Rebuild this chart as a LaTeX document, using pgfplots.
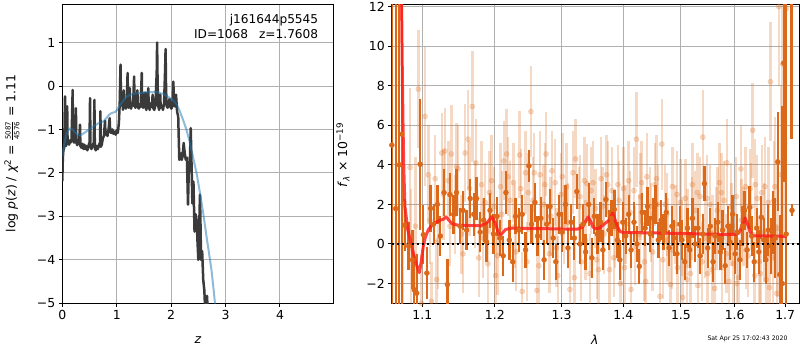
\documentclass[border=0pt]{standalone}
\usepackage{fontspec}
\setmainfont{DejaVu Sans}
\usepackage{pgfplots}
\usepackage{pgfplotstable}
\pgfplotsset{compat=1.18}
\definecolor{darkor}{RGB}{220,105,25}
\definecolor{tabblue}{RGB}{31,119,180}
\definecolor{gridc}{RGB}{176,176,176}
\definecolor{dgray}{RGB}{58,58,58}
\definecolor{modred}{RGB}{255,25,25}

\pgfplotstableread{
z y
0.000 -2.19
0.010 -1.65
0.020 -1.48
0.035 -1.42
0.045 -0.60
0.050 -0.24
0.056 -1.30
0.070 -1.38
0.082 -1.25
0.090 -0.47
0.097 -1.32
0.110 -1.28
0.125 -1.35
0.140 -1.25
0.155 -1.30
0.170 -1.22
0.185 -0.40
0.190 -0.09
0.197 -1.22
0.215 -1.30
0.235 -1.28
0.250 -0.51
0.258 -1.30
0.275 -1.36
0.295 -1.30
0.310 -1.25
0.325 -0.89
0.333 -1.38
0.350 -1.42
0.370 -1.33
0.390 -1.45
0.405 -1.35
0.420 -1.45
0.440 -1.38
0.460 -1.48
0.480 -1.38
0.500 -1.30
0.510 -0.28
0.518 -1.40
0.535 -1.45
0.555 -1.38
0.580 -1.30
0.590 -0.32
0.598 -1.42
0.615 -1.48
0.635 -1.38
0.655 -1.45
0.675 -1.35
0.695 -1.30
0.700 -0.58
0.708 -1.40
0.725 -1.35
0.745 -1.20
0.765 -1.15
0.785 -0.80
0.793 -1.12
0.810 -1.05
0.830 -1.15
0.850 -1.00
0.870 -0.74
0.880 -1.05
0.900 -1.08
0.920 -1.00
0.940 -1.10
0.960 -1.05
0.980 -1.12
1.000 -1.02
1.020 -1.08
1.040 -0.85
1.055 -0.40
1.065 0.20
1.070 0.49
1.078 -0.30
1.090 -0.45
1.105 -0.35
1.115 -0.55
1.130 -0.10
1.138 -0.50
1.155 -0.45
1.170 -0.52
1.185 -0.35
1.200 0.30
1.208 -0.40
1.220 -0.50
1.240 -0.05
1.248 -0.48
1.265 -0.52
1.280 -0.40
1.300 -0.45
1.320 0.22
1.328 -0.45
1.345 -0.50
1.365 -0.38
1.380 -0.10
1.388 -0.48
1.405 -0.52
1.420 -0.42
1.440 -0.48
1.460 0.30
1.468 -0.45
1.485 -0.50
1.500 -0.42
1.520 -0.15
1.528 -0.48
1.545 -0.55
1.560 -0.40
1.580 -0.05
1.588 -0.45
1.605 -0.55
1.625 -0.40
1.645 -0.48
1.660 -0.20
1.668 -0.50
1.690 -0.55
1.710 -0.45
1.735 0.30
1.742 1.00
1.750 0.20
1.760 -0.45
1.780 -0.55
1.800 -0.20
1.808 -0.50
1.830 -0.45
1.850 -0.55
1.870 -0.40
1.890 0.40
1.898 0.85
1.905 0.10
1.915 -0.45
1.935 -0.50
1.955 -0.40
1.970 -0.30
1.985 -0.48
2.005 -0.52
2.025 -0.45
2.040 0.10
2.055 -0.45
2.070 -0.47
2.090 -0.20
2.110 -0.60
2.130 -0.70
2.150 -1.70
2.165 -1.60
2.180 -1.55
2.195 -1.70
2.210 -1.62
2.230 -1.31
2.250 -1.55
2.270 -1.70
2.290 -1.65
2.310 -2.73
2.325 -1.90
2.345 -1.70
2.360 -0.97
2.375 -1.80
2.390 -2.70
2.410 -2.20
2.430 -3.35
2.450 -2.95
2.470 -3.10
2.485 -3.60
2.500 -4.00
2.515 -3.30
2.530 -2.50
2.540 -3.20
2.550 -4.00
2.570 -3.80
2.590 -4.46
2.610 -4.70
2.625 -5.15
2.645 -4.90
2.660 -4.83
2.675 -5.30
}\pzdata

\pgfplotstableread{
z y
0.00 -1.62
0.04 -1.30
0.08 -1.08
0.14 -0.97
0.19 -1.00
0.23 -1.06
0.28 -1.12
0.32 -1.14
0.38 -1.10
0.45 -1.04
0.57 -0.93
0.69 -0.84
0.75 -0.82
0.81 -0.74
0.86 -0.66
0.91 -0.62
0.97 -0.60
1.00 -0.56
1.05 -0.46
1.09 -0.39
1.18 -0.24
1.30 -0.18
1.45 -0.16
1.61 -0.14
1.73 -0.14
1.85 -0.18
1.91 -0.22
2.04 -0.33
2.10 -0.42
2.16 -0.58
2.22 -0.78
2.28 -1.00
2.34 -1.28
2.40 -1.62
2.47 -2.02
2.53 -2.46
2.59 -2.93
2.65 -3.46
2.70 -3.88
2.74 -4.22
2.78 -4.68
2.81 -5.05
2.83 -5.30
}\priordata

\pgfplotstableread{
x y e
1.0605 5.0 20
1.0654 1.79 20
1.0700 4.0 20
1.0734 5.55 20
1.0770 0.95 1.3
1.0820 -0.10 1.2
1.0870 -0.80 1.5
1.0894 -2.32 1.8
1.0926 -2.49 2.0
1.0970 4.03 3.3
1.1013 0.47 1.5
1.1060 -1.47 1.3
1.1110 1.80 1.2
1.1150 1.00 1.0
1.1200 2.00 1.0
1.1240 0.40 1.0
1.1290 2.60 1.2
1.1335 -2.05 1.3
1.1370 2.50 1.1
1.1420 1.50 1.0
1.1460 2.60 1.2
1.1510 0.90 0.9
1.1550 1.70 1.0
1.1600 0.70 1.0
1.1650 2.30 1.0
1.1700 1.50 1.1
1.1740 2.30 1.1
1.1790 0.60 1.0
1.1840 1.20 1.1
1.1880 0.10 1.0
1.1930 1.70 0.9
1.1980 0.50 1.0
1.2030 1.40 1.0
1.2070 0.30 0.9
1.2120 -0.60 1.0
1.2160 2.60 1.1
1.2210 0.20 1.0
1.2260 -0.90 1.0
1.2300 1.40 0.9
1.2350 0.70 1.1
1.2400 1.50 1.0
1.2450 -0.30 0.9
1.2500 3.95 0.8
1.2540 1.00 1.0
1.2590 2.10 1.0
1.2630 0.40 1.0
1.2680 1.30 1.1
1.2730 -0.80 1.0
1.2770 1.00 1.0
1.2820 1.90 0.9
1.2870 0.30 1.0
1.2910 -0.90 0.9
1.2960 1.50 1.0
1.3010 0.60 1.0
1.3060 2.00 1.0
1.3100 -0.20 1.0
1.3150 1.10 0.9
1.3200 0.30 1.1
1.3240 2.65 0.9
1.3290 0.00 1.0
1.3340 1.00 1.0
1.3380 -0.40 0.9
1.3430 2.00 1.1
1.3480 -0.70 1.0
1.3520 1.40 0.9
1.3570 0.50 1.0
1.3620 1.10 1.0
1.3660 -0.30 1.0
1.3710 2.25 0.9
1.3760 0.70 1.0
1.3800 1.30 0.9
1.3850 1.75 1.0
1.3900 0.20 0.9
1.3940 -0.80 1.0
1.3990 1.10 1.0
1.4040 0.40 0.9
1.4090 1.50 1.0
1.4130 -0.30 0.9
1.4180 1.10 1.0
1.4230 0.00 0.9
1.4270 -1.13 0.9
1.4320 1.60 1.0
1.4370 0.80 0.9
1.4410 1.90 1.0
1.4460 0.50 0.9
1.4510 1.30 1.0
1.4550 2.00 1.0
1.4600 0.20 0.9
1.4650 1.20 1.0
1.4690 0.60 0.9
1.4740 1.60 1.0
1.4790 -0.20 0.9
1.4840 0.90 1.0
1.4880 0.30 0.9
1.4930 -0.50 1.0
1.4980 1.00 0.9
1.5020 0.20 1.0
1.5070 -0.90 0.9
1.5120 0.80 1.0
1.5160 -0.30 0.9
1.5210 1.30 1.0
1.5260 0.00 0.9
1.5310 0.80 1.0
1.5350 -0.60 0.9
1.5400 0.50 1.0
1.5430 3.05 0.9
1.5490 -0.20 1.0
1.5540 0.90 0.9
1.5590 -0.90 1.0
1.5630 0.40 0.9
1.5680 1.10 1.0
1.5730 -0.40 0.9
1.5770 0.70 1.0
1.5820 -1.10 0.9
1.5870 0.90 1.0
1.5910 0.10 0.9
1.5960 1.50 1.0
1.6010 -0.50 1.0
1.6050 0.60 0.9
1.6100 -0.80 1.0
1.6150 0.90 1.0
1.6190 1.70 1.0
1.6240 -0.30 0.9
1.6290 1.85 1.1
1.6330 0.40 1.0
1.6380 -0.90 1.0
1.6430 0.80 1.0
1.6470 -0.40 1.1
1.6520 1.35 1.1
1.6570 0.20 1.1
1.6610 -0.80 1.2
1.6660 0.70 1.3
1.6710 -0.10 1.4
1.6750 1.10 1.6
1.6800 0.30 2.0
1.6850 4.15 2.5
1.6890 -1.55 3.0
1.6940 -2.00 9.0
1.6970 9.15 6.0
1.7020 0.50 20
1.7130 12.50 7.2
1.7140 1.70 0.3
}\darkdata

\pgfplotstableread{
x y e
1.0750 2.0 6.0
1.0839 3.87 4.0
1.0850 -0.20 3.0
1.0910 0.90 3.5
1.0947 7.83 3.0
1.0990 -3.00 2.5
1.1036 6.45 3.5
1.1080 3.50 2.5
1.1100 1.20 2.2
1.1120 -2.90 2.0
1.1170 3.30 2.2
1.1190 -1.80 2.0
1.1210 0.20 2.5
1.1260 4.60 2.0
1.1280 2.50 2.3
1.1300 4.70 2.2
1.1350 3.20 2.0
1.1370 0.90 2.0
1.1390 4.55 2.5
1.1440 1.50 2.0
1.1460 3.90 2.2
1.1480 3.80 2.2
1.1530 0.50 2.0
1.1550 -0.50 2.0
1.1580 4.60 2.5
1.1620 5.30 2.5
1.1640 2.80 2.4
1.1680 6.95 2.8
1.1720 2.00 2.2
1.1730 4.10 2.2
1.1770 -0.70 2.0
1.1810 3.00 2.2
1.1830 0.30 2.0
1.1860 2.10 2.0
1.1900 -1.00 2.0
1.1920 2.60 2.1
1.1950 3.20 2.3
1.1990 1.90 2.0
1.2010 -1.60 2.0
1.2040 -0.60 2.0
1.2080 2.90 2.2
1.2100 1.50 2.2
1.2130 4.20 2.0
1.2170 4.55 2.3
1.2190 3.40 2.0
1.2220 2.20 2.0
1.2270 3.10 2.0
1.2290 0.90 2.1
1.2310 -0.40 2.0
1.2360 4.50 2.2
1.2380 2.80 2.0
1.2400 -2.40 2.0
1.2450 3.60 2.1
1.2470 -0.90 2.0
1.2490 2.60 2.0
1.2530 6.70 2.3
1.2560 2.20 2.2
1.2580 3.60 2.0
1.2620 -2.35 2.0
1.2650 -1.10 2.0
1.2670 3.50 2.2
1.2720 2.00 2.0
1.2740 3.00 2.1
1.2760 4.55 2.1
1.2810 -0.50 2.0
1.2830 1.40 2.0
1.2850 3.70 2.0
1.2900 3.10 2.2
1.2920 -0.20 2.0
1.2940 -1.60 2.0
1.2990 2.50 2.1
1.3010 3.40 2.2
1.3040 1.00 2.0
1.3080 2.90 2.2
1.3100 1.10 2.0
1.3130 -2.30 2.0
1.3180 3.60 2.1
1.3200 -1.70 2.0
1.3220 4.30 2.0
1.3270 1.90 2.0
1.3290 2.40 2.1
1.3310 -0.90 2.0
1.3360 3.20 2.2
1.3380 0.20 2.0
1.3400 3.05 2.0
1.3450 -1.50 2.0
1.3470 2.70 2.2
1.3500 3.10 2.1
1.3540 1.80 2.0
1.3560 -0.80 2.0
1.3590 -1.30 2.0
1.3630 3.30 2.1
1.3650 1.90 2.0
1.3680 0.50 2.0
1.3720 3.50 2.0
1.3740 3.00 2.2
1.3770 -1.30 2.0
1.3810 2.70 2.2
1.3840 -0.70 2.0
1.3860 0.80 2.0
1.3910 3.00 2.0
1.3930 2.20 2.0
1.3950 -2.00 2.0
1.4000 2.80 2.1
1.4020 -1.20 2.0
1.4040 1.00 2.0
1.4090 3.20 2.0
1.4110 1.60 2.1
1.4130 -2.30 2.0
1.4180 2.70 2.2
1.4200 -0.10 2.0
1.4220 5.30 2.4
1.4270 0.50 2.0
1.4290 2.40 2.2
1.4310 3.10 2.1
1.4360 -0.90 2.0
1.4380 -1.90 2.0
1.4400 3.40 2.2
1.4450 1.90 2.0
1.4470 1.10 2.0
1.4500 -0.40 2.0
1.4540 3.00 2.1
1.4570 3.30 2.2
1.4590 2.00 2.0
1.4630 -2.65 2.0
1.4660 5.05 2.3
1.4680 -0.80 2.0
1.4720 2.00 2.0
1.4750 1.50 2.1
1.4760 0.20 2.1
1.4810 -2.05 2.0
1.4840 -0.30 2.0
1.4850 2.90 2.0
1.4900 1.00 2.0
1.4930 2.50 2.2
1.4940 -1.20 2.0
1.4990 2.10 2.2
1.5020 0.40 2.0
1.5030 -2.70 2.0
1.5080 2.30 2.0
1.5110 -1.80 2.0
1.5120 0.80 2.0
1.5170 -1.50 2.0
1.5200 1.30 2.1
1.5210 3.00 2.1
1.5260 1.70 2.0
1.5300 2.60 2.0
1.5310 -2.10 2.0
1.5350 2.40 2.0
1.5390 -0.90 2.0
1.5400 5.40 2.4
1.5440 0.30 2.0
1.5480 2.30 2.2
1.5490 -1.50 2.0
1.5530 2.00 2.0
1.5570 -1.30 2.0
1.5580 0.50 2.0
1.5620 -2.25 2.0
1.5660 0.80 2.1
1.5670 1.70 2.2
1.5710 3.10 2.0
1.5750 2.60 2.0
1.5760 -1.20 2.0
1.5800 2.20 2.0
1.5840 -0.50 2.0
1.5850 4.10 2.2
1.5890 -1.90 2.0
1.5930 1.90 2.2
1.5940 1.00 2.1
1.5980 -1.00 2.0
1.6030 2.40 2.0
1.6040 -2.00 2.0
1.6070 -1.70 2.0
1.6120 3.80 2.2
1.6130 1.20 2.1
1.6170 0.90 2.0
1.6210 2.90 2.0
1.6220 -0.30 2.0
1.6260 -0.60 2.1
1.6300 2.80 2.0
1.6320 1.90 2.2
1.6350 5.75 2.4
1.6390 -1.60 2.2
1.6400 3.00 2.3
1.6440 2.30 2.2
1.6480 -0.90 2.3
1.6500 -1.50 2.4
1.6530 2.60 2.4
1.6570 0.60 2.5
1.6590 2.90 2.5
1.6620 -1.80 2.6
1.6660 2.10 2.8
1.6680 -2.20 2.7
1.6700 8.20 3.0
1.6750 -0.70 3.0
1.6770 2.20 3.0
1.6790 2.90 3.5
1.6830 -2.50 3.5
1.6845 0.80 3.5
1.6870 12.00 4.0
1.6910 3.50 4.5
1.6950 9.10 5.0
1.6990 5.10 5.0
1.7020 11.90 6.0
}\lightdata

\pgfplotsset{
  mpl/.style={
    scale only axis,
    axis line style={line width=1bp},
    grid=major,
    grid style={gridc, line width=1bp},
    tick align=outside,
    major tick length=3.5bp,
    tick style={black, line width=1bp},
    tick pos=left,
    xminorticks=false, yminorticks=false,
    ticklabel style={font=\fontsize{12.5}{15}\selectfont},
    clip=true,
  }
}

\begin{document}
\begin{tikzpicture}
% ---------------- left panel ----------------
\begin{axis}[mpl,
  at={(62.3bp,46.7bp)}, anchor=south west,
  width=271bp, height=299bp,
  xmin=0, xmax=4.98, ymin=-5, ymax=1.88,
  xtick={0,1,2,3,4}, xticklabels={0,1,2,3,4},
  ytick={-5,-4,-3,-2,-1,0,1},
  yticklabels={−5,−4,−3,−2,−1,0,1},
]
\addplot[dgray, line width=2.5bp, line join=round] table[x=z,y=y] {\pzdata};
\addplot[tabblue, opacity=0.5, line width=2bp, line join=round] table[x=z,y=y] {\priordata};
\node[anchor=north east, align=right, font=\fontsize{12.2}{14.5}\selectfont, inner sep=0pt]
  at (rel axis cs:0.945,0.967) {j161644p5545\\ID=1068\hspace{0.9em}z=1.7608};
\end{axis}

% ---------------- right panel ----------------
\begin{axis}[mpl,
  at={(391.7bp,46.7bp)}, anchor=south west,
  width=407.6bp, height=299bp,
  xmode=log,
  xmin=1.0603, xmax=1.729, ymin=-3, ymax=12.12,
  xtick={1.1,1.2,1.3,1.4,1.5,1.6,1.7},
  xticklabels={1.1,1.2,1.3,1.4,1.5,1.6,1.7},
  ytick={-2,0,2,4,6,8,10,12},
  yticklabels={−2,0,2,4,6,8,10,12},
]
\addplot[only marks, mark=*, mark size=2.6bp, color=darkor, opacity=0.25,
  error bars/.cd, y dir=both, y explicit, error mark=none,
  error bar style={line width=2.5bp, opacity=0.25}]
  table[x=x,y=y,y error=e] {\lightdata};
\addplot[only marks, mark=*, mark size=2.5bp, color=darkor,
  error bars/.cd, y dir=both, y explicit, error mark=none,
  error bar style={line width=2.3bp}]
  table[x=x,y=y,y error=e] {\darkdata};
\addplot[modred, opacity=0.8, line width=3bp, line join=round] coordinates {
(1.0728,12.5) (1.0738,9) (1.0748,6) (1.0758,3.8) (1.0772,1.9) (1.081,0.7)
(1.086,-0.1) (1.091,-0.9) (1.096,-1.45) (1.0985,-0.9) (1.1013,-0.1) (1.104,0.35)
(1.108,0.73) (1.1146,1.02) (1.1236,1.2) (1.128,1.25) (1.1317,1.37) (1.1396,1.03)
(1.148,0.95) (1.165,0.93) (1.18,0.92) (1.1895,1.1) (1.1956,1.38) (1.2005,1.05)
(1.2055,0.5) (1.2075,0.42) (1.2154,0.73) (1.2242,0.8) (1.25,0.79) (1.28,0.77)
(1.31,0.75) (1.325,0.75) (1.333,0.85) (1.338,1.15) (1.342,1.37) (1.346,1.15)
(1.35,0.85) (1.354,0.77) (1.36,0.8) (1.368,1.0) (1.376,1.2) (1.382,1.57)
(1.386,1.25) (1.39,0.85) (1.395,0.62) (1.40,0.58) (1.45,0.56) (1.5,0.53)
(1.55,0.5) (1.6,0.48) (1.608,0.55) (1.614,0.9) (1.62,1.32) (1.625,1.0)
(1.63,0.6) (1.635,0.43) (1.64,0.41) (1.68,0.4) (1.703,0.38)
};
\addplot[black, line width=2bp, dash pattern=on 2bp off 3bp] coordinates {(1.0603,0) (1.729,0)};
\end{axis}

% labels
\node[rotate=90, font=\fontsize{12.5}{15}\selectfont] at (12bp,196.5bp)
  {log \textit{p}(\textit{z}) / \textit{χ}\textsuperscript{2} = $\frac{\mbox{\fontsize{7}{7}\selectfont 5087}}{\mbox{\fontsize{7}{7}\selectfont 4576}}$ = 1.11};
\node[rotate=90, font=\fontsize{12.5}{15}\selectfont] at (343bp,195bp)
  {\textit{f}\textsubscript{\textit{λ}} × 10\textsuperscript{−19}};
\node[font=\fontsize{12.5}{15}\selectfont] at (198bp,10bp) {\textit{z}};
\node[font=\fontsize{12.5}{15}\selectfont] at (594.7bp,10bp) {\textit{λ}};
\node[font=\fontsize{6.2}{7}\selectfont, anchor=east, inner sep=0pt] at (787.7bp,11bp) {Sat Apr 25 17:02:43 2020};

\pgfresetboundingbox
\useasboundingbox (0,0) rectangle (800bp,350bp);
\end{tikzpicture}
\end{document}
